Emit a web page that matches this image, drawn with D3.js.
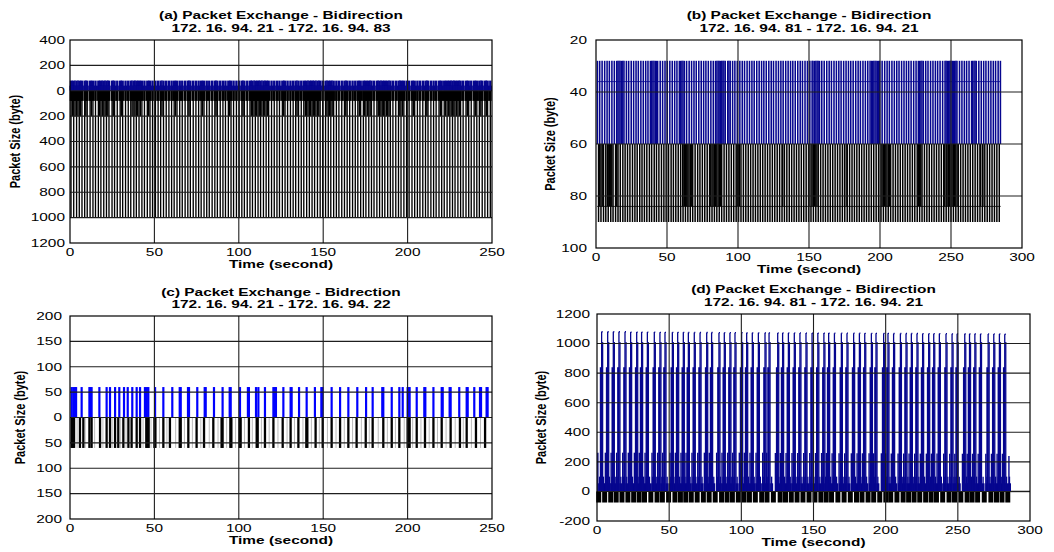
<!DOCTYPE html>
<html><head><meta charset="utf-8">
<script src="https://cdn.jsdelivr.net/npm/d3@7"></script>
<style>body{margin:0;background:#fff}svg{display:block}text{font-family:"Liberation Sans",Arial,sans-serif;fill:#000}</style>
</head><body><svg id="chart" width="1054" height="552"></svg>
<script>
// ---------------- data ----------------
const titlesA = ["(a) Packet Exchange - Bidirection", "172. 16. 94. 21 - 172. 16. 94. 83"];
const titlesB = ["(b) Packet Exchange - Bidirection", "172. 16. 94. 81 - 172. 16. 94. 21"];
const titlesC = ["(c) Packet Exchange - Bidrection", "172. 16. 94. 21 - 172. 16. 94. 22"];
const titlesD = ["(d) Packet Exchange - Bidirection", "172. 16. 94. 81 - 172. 16. 94. 21"];
const xLabel = "Time (second)";
const yLabel = "Packet Size (byte)";

const xTicks250 = [0, 50, 100, 150, 200, 250];
const xTicks300 = [0, 50, 100, 150, 200, 250, 300];
const aYTicks = [400, 200, 0, -200, -400, -600, -800, -1000, -1200];
const bYTicks = [20, 40, 60, 80, 100];
const cYTicks = [200, 150, 100, 50, 0, -50, -100, -150, -200];
const dYTicks = [1200, 1000, 800, 600, 400, 200, 0, -200];

// (a) packet sizes: black = one direction (negative), blue = other direction
const aTallV = -1000, aMidV = -200, aLowV = -80, aBlueHiV = 80, aBlueLoV = 40;
const aTallT = [0.6,2.2,3.9,5.5,7.1,8.7,10.2,11.9,13.6,15.1,16.8,18.3,20.0,21.6,23.1,24.9,26.4,28.0,29.7,31.2,32.9,34.5,36.0,37.8,39.3,40.9,42.6,44.1,45.8,47.4,48.9,50.6,52.2,53.7,55.4,57.0,58.6,60.2,61.7,63.4,65.0,66.5,68.2,69.8,71.3,73.0,74.6,76.2,77.7,79.4,81.0,82.5,84.2,85.8,87.3,89.0,90.6,92.1,93.8,95.4,96.9,98.6,100.2,101.8,103.3,105.0,106.6,108.1,109.8,111.4,112.9,114.6,116.2,117.7,119.4,121.0,122.6,124.1,125.8,127.4,128.9,130.6,132.2,133.7,135.4,137.0,138.5,140.2,141.8,143.4,144.9,146.6,148.2,149.7,151.4,153.0,154.5,156.2,157.8,159.3,161.0,162.6,164.2,165.7,167.4,169.0,170.5,172.2,173.8,175.3,177.0,178.6,180.1,181.8,183.4,185.0,186.5,188.2,189.8,191.3,193.0,194.6,196.1,197.8,199.4,200.9,202.6,204.2,205.8,207.3,209.0,210.6,212.1,213.8,215.4,216.9,218.6,220.2,221.7,223.4,225.0,226.6,228.1,229.8,231.4,232.9,234.6,236.2,237.7,239.4,241.0,242.5,244.2,245.8,247.4,249.0];
const aMidT = [1.4,3.0,4.7,6.3,9.4,12.7,17.5,19.1,20.8,22.4,25.6,30.4,36.8,38.5,40.1,41.7,46.6,54.5,62.5,70.5,78.5,86.5,94.6,102.5,107.4,109.0,110.6,112.1,113.7,115.4,117.0,126.6,134.5,139.4,141.0,142.6,144.1,145.7,147.4,152.2,153.8,155.3,163.4,171.4,174.5,176.2,177.8,182.6,184.2,185.8,187.4,189.0,195.4,197.0,203.4,211.4,219.4,222.5,224.2,225.8,227.4,229.0,230.6,235.4,240.2,243.4,246.6];

// (b)
const bBase = 60, bBlueV = 28, bBlueStepV = 36, bBlackV = 90, bBlackStepV = 84;
const bStepRange = [0.8, 285.0];
const bBlueT = [1.0,2.6,4.3,6.1,7.8,9.4,11.2,12.9,14.6,16.2,17.9,19.7,21.4,23.0,24.8,26.5,28.2,29.8,31.6,33.3,35.0,36.6,38.3,40.1,41.8,43.4,45.2,46.9,48.6,50.2,52.0,53.7,55.4,57.0,58.7,60.5,62.2,63.8,65.6,67.3,69.0,70.6,72.4,74.1,75.8,77.4,79.1,80.9,82.6,84.2,86.0,87.7,89.4,91.0,92.8,94.5,96.2,97.8,99.5,101.3,103.0,104.6,106.4,108.1,109.8,111.4,113.2,114.9,116.6,118.2,119.9,121.7,123.4,125.0,126.8,128.5,130.2,131.8,133.6,135.3,137.0,138.6,140.3,142.1,143.8,145.4,147.2,148.9,150.6,152.2,154.0,155.7,157.4,159.0,160.7,162.5,164.2,165.8,167.6,169.3,171.0,172.6,174.4,176.1,177.8,179.4,181.1,182.9,184.6,186.2,188.0,189.7,191.4,193.0,194.8,196.5,198.2,199.8,201.5,203.3,205.0,206.6,208.4,210.1,211.8,213.4,215.2,216.9,218.6,220.2,221.9,223.7,225.4,227.0,228.8,230.5,232.2,233.8,235.6,237.3,239.0,240.6,242.3,244.1,245.8,247.4,249.2,250.9,252.6,254.2,256.0,257.7,259.4,261.0,262.7,264.5,266.2,267.8,269.6,271.3,273.0,274.6,276.4,278.1,279.8,281.4,283.2,284.8];
const bBlueExtraT = [15.4,17.0,18.8,39.2,40.9,42.6,59.6,61.3,85.1,86.8,88.5,90.1,93.6,152.9,154.8,156.5,194.0,195.6,197.3,199.0,227.8,229.6,246.6,248.3,250.0,251.7,253.4,265.2,267.0];
const bBlackT = [1.8,3.5,5.3,6.9,8.6,10.4,12.0,13.8,15.5,17.1,18.9,20.5,22.2,23.9,25.7,27.4,29.0,30.8,32.4,34.1,35.8,37.6,39.2,41.0,42.6,44.3,46.1,47.8,49.4,51.1,52.9,54.5,56.2,57.9,59.6,61.3,63.0,64.7,66.4,68.1,69.8,71.6,73.2,74.9,76.6,78.3,80.0,81.7,83.4,85.1,86.8,88.5,90.2,91.9,93.6,95.3,97.0,98.7,100.4,102.1,103.8,105.5,107.2,108.9,110.6,112.3,114.0,115.7,117.4,119.1,120.8,122.5,124.2,125.9,127.6,129.3,131.0,132.7,134.4,136.1,137.8,139.5,141.2,142.9,144.6,146.3,148.0,149.7,151.4,153.1,154.8,156.5,158.2,159.9,161.6,163.3,165.0,166.7,168.4,170.1,171.8,173.5,175.2,176.9,178.6,180.3,182.0,183.7,185.4,187.1,188.8,190.5,192.2,193.9,195.6,197.3,199.0,200.7,202.4,204.1,205.8,207.5,209.2,210.9,212.6,214.3,216.0,217.7,219.4,221.1,222.8,224.5,226.2,227.9,229.6,231.3,233.0,234.7,236.4,238.1,239.8,241.5,243.2,244.9,246.6,248.3,250.0,251.7,253.4,255.1,256.8,258.5,260.2,261.9,263.6,265.3,267.0,268.7,270.4,272.1,273.8,275.5,277.2,278.9,280.6,282.3,284.0];
const bBlack84T = [2.6,4.4,8.0,9.5,11.1,14.6,61.0,62.2,63.9,65.5,67.1,80.8,82.5,84.3,86.0,87.6,99.5,101.0,131.5,150.0,152.2,153.9,155.6,175.0,176.7,201.5,203.2,204.9,206.6,227.0,228.7,245.6,247.3,249.1,250.8,252.6,254.3,270.8,272.5];

// (c)
const cBlueV = 60, cBlackV = -60;
const cBlueT = [1.0,2.0,3.0,3.6,6.9,11.5,12.1,12.8,17.4,21.7,23.7,26.7,29.2,32.0,34.2,36.9,39.5,41.5,44.4,45.5,46.4,50.4,55.3,60.6,65.0,65.6,69.9,70.5,75.4,79.8,80.4,85.3,90.4,94.6,95.2,100.7,105.4,106.0,110.2,111.6,115.5,120.5,121.4,122.0,126.4,130.7,131.3,135.7,140.2,145.1,148.9,149.5,155.0,160.0,164.9,170.2,175.4,179.3,185.0,185.6,190.6,195.1,197.1,200.0,200.6,201.2,205.4,209.9,210.5,215.3,220.2,220.8,224.9,225.5,230.6,235.0,235.6,239.5,242.9,243.5,246.8,247.4];
const cBlackT = [1.0,1.6,2.4,5.9,7.9,11.5,12.8,17.8,21.7,23.7,26.7,28.6,31.6,34.6,36.5,39.5,41.5,45.2,45.8,46.6,50.0,50.6,55.3,59.2,65.0,65.6,70.1,75.0,79.4,84.9,89.8,90.4,95.0,95.6,100.5,101.1,106.0,110.6,111.2,115.5,120.5,126.0,130.7,135.3,140.0,140.6,145.5,149.7,155.0,160.0,164.9,169.8,175.2,179.3,185.6,190.6,195.1,200.0,200.6,201.2,205.4,210.3,215.3,220.2,225.5,231.0,235.0,240.5,245.9];
const cGreyT = [4.2,9.0,14.6,19.5,25.0,30.0,33.2,43.3,48.0,53.0,57.4,62.6,67.8,72.5,77.5,82.5,87.7,92.8,98.1,103.4,108.0,113.4,118.0,123.2,128.6,133.0,138.0,143.0,147.7,152.5,157.6,162.5,167.4,172.6,177.3,182.6,188.0,192.8,198.0,203.0,207.9,212.8,217.7,222.8,228.2,233.0,237.8,243.2];

// (d)
const dPeakT = [3.2,7.4,11.3,15.2,19.4,23.3,27.5,30.9,34.9,39.7,43.6,47.1,52.2,55.9,59.8,63.3,67.4,71.4,76.0,79.4,84.5,88.2,92.1,95.6,100.2,103.7,107.6,111.8,116.4,119.2,125.2,128.6,132.6,136.7,140.6,144.8,149.0,153.0,157.2,160.5,164.5,169.3,173.2,177.8,181.8,185.5,190.1,193.3,198.6,201.6,205.5,210.2,214.1,217.8,221.7,225.6,229.8,233.3,237.2,241.8,246.0,249.5,254.8,258.1,261.8,265.7,271.0,274.9,278.8,282.5];
const dPeakV = [1080,1080,1080,1080,1080,1078,1078,1078,1078,1078,1076,1076,1076,1076,1076,1075,1075,1075,1075,1075,1074,1074,1074,1074,1074,1073,1073,1073,1073,1073,1072,1072,1072,1072,1072,1071,1071,1071,1071,1071,1070,1070,1070,1070,1070,1069,1069,1069,1069,1069,1068,1068,1068,1068,1068,1067,1067,1067,1067,1067,1066,1066,1066,1066,1066,1065,1065,1065,1065,1063];
const d1010T = [3.9,8.1,12.0,15.9,20.1,24.0,28.2,31.6,35.6,40.4,44.3,47.8,52.9,56.6,60.5,64.0,68.1,72.1,76.7,80.1,85.2,88.9,92.8,96.3,100.9,104.4,108.3,112.5,117.1,119.9,125.9,129.3,133.3,137.4,141.3,145.5,149.7,153.7,157.9,161.2,165.2,170.0,173.9,178.5,182.5,186.2,190.8,194.0,199.3,202.3,206.2,210.9,214.8,218.5,222.4,226.3,230.5,234.0,237.9,242.5,246.7,250.2,255.5,258.8,262.5,266.4,271.7,275.6,279.5,283.2];
const d1010V = 1010;
const d840T = [2.7,6.9,10.8,14.7,18.9,22.8,27.0,30.4,34.4,39.2,43.1,46.6,51.7,55.4,59.3,62.8,66.9,70.9,75.5,78.9,84.0,87.7,91.6,95.1,99.7,103.2,107.1,111.3,115.9,118.7,124.7,128.1,132.1,136.2,140.1,144.3,148.5,152.5,156.7,160.0,164.0,168.8,172.7,177.3,181.3,185.0,189.6,192.8,198.1,201.1,205.0,209.7,213.6,217.3,221.2,225.1,229.3,232.8,236.7,241.3,245.5,249.0,254.3,257.6,261.3,265.2,270.5,274.4,278.3,282.0];
const d840V = 840;
const d260T = [0.6,5.8,9.8,13.6,17.8,21.7,25.9,29.3,33.3,38.1,42.0,45.5,50.6,54.3,58.2,61.7,65.8,69.8,74.4,77.8,82.9,86.6,90.5,94.0,98.6,102.1,106.0,110.2,114.8,117.6,123.6,127.0,131.0,135.1,139.0,143.2,147.4,151.4,155.6,158.9,162.9,167.7,171.6,176.2,180.2,183.9,188.5,191.7,197.0,200.0,203.9,208.6,212.5,216.2,220.1,224.0,228.2,231.7,235.6,240.2,244.4,247.9,253.2,256.5,260.2,264.1,269.4,273.3,277.2,280.9,285.4];
const d260V = [262,262,262,262,262,262,262,262,262,262,262,262,262,262,262,262,262,262,262,262,262,262,262,262,262,262,262,262,262,262,260,260,260,260,260,260,260,260,260,260,258,258,258,258,258,258,258,258,258,258,256,256,256,256,256,256,256,256,256,256,255,255,255,255,255,255,255,255,255,255,240];
const d100T = [1.8,4.5,6.2,8.6,10.4,12.6,14.4,16.5,18.4,20.6,22.5,24.6,26.4,28.5,30.2,32.3,34.1,36.4,38.6,41.0,42.8,44.9,46.3,48.6,51.1,53.3,55.0,57.2,59.0,60.9,62.5,64.5,66.6,68.5,70.5,72.8,75.1,77.0,78.6,80.9,83.6,85.5,87.4,89.4,91.3,93.0,94.8,97.1,99.4,101.0,102.9,105.0,106.8,108.9,111.0,113.2,115.6,117.5,118.4,121.0,124.4,126.0,127.8,130.0,131.8,133.9,135.9,137.9,139.8,142.0,144.0,146.1,148.2,150.3,152.2,154.4,156.4,158.4,159.7,161.8,163.7,166.0,168.5,170.5,172.4,174.6,177.0,179.1,181.0,182.9,184.7,186.8,189.3,191.5,192.5,194.6,197.8,199.9,200.8,203.0,204.7,206.9,209.4,211.5,213.3,215.4,217.0,219.1,220.9,223.0,224.8,227.0,229.0,231.1,232.5,234.6,236.4,238.6,241.0,243.1,245.2,247.3,248.7,251.0,254.0,256.0,257.3,259.5,261.0,263.0,264.9,267.5,270.2,272.3,274.1,276.2,278.0,280.1,282.0,283.8,285.8];
const d100V = 100, dBlueLowV = 55;
const dBlackT = [1.2,5.3,9.5,13.3,17.3,21.4,25.4,29.2,32.9,37.3,41.6,45.3,49.6,54.0,57.8,61.5,65.3,69.4,73.7,77.7,81.9,86.3,90.1,93.8,97.9,101.9,105.6,109.7,114.1,117.8,122.2,126.9,130.6,134.6,138.6,142.7,146.9,151.0,155.1,158.8,162.5,166.9,171.2,175.5,179.8,183.6,187.8,191.7,195.9,200.1,203.5,207.8,212.1,215.9,219.7,223.6,227.7,231.5,235.2,239.5,243.9,247.7,252.1,256.4,259.9,263.7,268.3,272.9,276.8,280.6,284.6];
const dBlackV = -75;
const dTailZero = [286.0, 300.0];

// ---------------- drawing ----------------
const svg = d3.select("#chart");
const NAVY = "#06068f", BLUE = "#0000ff", GRID = "#1e1e1e";
const SX = 1.4; // horizontal stretch of the original figure's text

function label(g, x, y, s, anchor, weight, dy) {
  g.append("text")
    .attr("transform", `translate(${x},${y}) scale(${SX},1)`)
    .attr("text-anchor", anchor).attr("font-size", 11)
    .attr("font-weight", weight).attr("dy", dy || 0).text(s);
}

function panel(cfg) {
  const g = svg.append("g");
  const x = d3.scaleLinear().domain(cfg.xDomain).range([cfg.left, cfg.right]);
  const y = d3.scaleLinear().domain(cfg.yDomain).range([cfg.bottom, cfg.top]);
  const data = g.append("g");
  const p = {g, data, x, y, cfg};
  p.finish = () => {
    const grid = g.append("g").attr("stroke", GRID).attr("stroke-width", 1.1);
    cfg.xTicks.slice(1, -1).forEach(v => grid.append("line")
      .attr("x1", x(v)).attr("x2", x(v)).attr("y1", cfg.top).attr("y2", cfg.bottom));
    cfg.yTicks.slice(1, -1).forEach(v => grid.append("line")
      .attr("x1", cfg.left).attr("x2", cfg.right).attr("y1", y(v)).attr("y2", y(v)));
    g.append("rect").attr("x", cfg.left).attr("y", cfg.top)
      .attr("width", cfg.right - cfg.left).attr("height", cfg.bottom - cfg.top)
      .attr("fill", "none").attr("stroke", "#000").attr("stroke-width", 1.2);
    cfg.xTicks.forEach(v => label(g, x(v), cfg.bottom + 13, v, "middle", "normal"));
    cfg.yTicks.forEach(v => label(g, cfg.left - cfg.yPad, y(v), cfg.fmt(v), "end", "normal", "0.35em"));
    label(g, (cfg.left + cfg.right) / 2, cfg.bottom + 25, xLabel, "middle", "bold");
    label(g, (cfg.left + cfg.right) / 2, cfg.t1, cfg.titles[0], "middle", "bold");
    label(g, (cfg.left + cfg.right) / 2, cfg.t2, cfg.titles[1], "middle", "bold");
    g.append("text")
      .attr("transform", `translate(${cfg.ylx},${(cfg.top + cfg.bottom) / 2}) scale(${SX},1) rotate(-90)`)
      .attr("text-anchor", "middle").attr("dy", "0.35em").attr("font-size", 11)
      .attr("font-weight", "bold").text(yLabel);
  };
  return p;
}

function spikes(p, times, base, val, color, w) {
  const vf = typeof val === "function" ? val : () => val;
  p.data.append("g").selectAll("line").data(times).join("line")
    .attr("x1", d => p.x(d)).attr("x2", d => p.x(d))
    .attr("y1", p.y(base)).attr("y2", (d, i) => p.y(vf(d, i)))
    .attr("stroke", color).attr("stroke-width", w);
}
function hline(p, range, v, color, w) {
  p.data.append("line").attr("x1", p.x(range[0])).attr("x2", p.x(range[1]))
    .attr("y1", p.y(v)).attr("y2", p.y(v)).attr("stroke", color).attr("stroke-width", w);
}

// ---- (a)
const pa = panel({left: 70, right: 492, top: 40, bottom: 243, xDomain: [0, 250], yDomain: [-1200, 400],
  xTicks: xTicks250, yTicks: aYTicks, fmt: v => Math.abs(v), yPad: 5, titles: titlesA, t1: 19, t2: 32, ylx: 15});
const aAllBlack = aTallT.concat(aMidT);
spikes(pa, aTallT, 0, aTallV, "#000", 1.35);
spikes(pa, aMidT, 0, aMidV, "#000", 1.5);
spikes(pa, aAllBlack, 0, aLowV, "#000", 2.6);
spikes(pa, aTallT, 0, aBlueHiV, NAVY, 2.4);
spikes(pa, aMidT, 0, aBlueHiV, NAVY, 1.4);
spikes(pa, aAllBlack, 0, aBlueLoV, NAVY, 3);
pa.finish();

// ---- (b)
const pb = panel({left: 596, right: 1022, top: 40, bottom: 248, xDomain: [0, 300], yDomain: [100, 20],
  xTicks: xTicks300, yTicks: bYTicks, fmt: v => v, yPad: 9, titles: titlesB, t1: 19, t2: 32, ylx: 550});
spikes(pb, bBlackT, bBase, bBlackV, "#000", 1.5);
spikes(pb, bBlack84T, bBase, bBlackStepV, "#000", 1.4);
spikes(pb, bBlueT, bBase, bBlueV, NAVY, 1.55);
spikes(pb, bBlueExtraT, bBase, bBlueV, NAVY, 1.3);
hline(pb, bStepRange, bBlueStepV, NAVY, 0.8);
hline(pb, bStepRange, bBlackStepV, "#000", 0.8);
pb.finish();

// ---- (c)
const pc = panel({left: 70, right: 492, top: 316, bottom: 519, xDomain: [0, 250], yDomain: [-200, 200],
  xTicks: xTicks250, yTicks: cYTicks, fmt: v => Math.abs(v), yPad: 8, titles: titlesC, t1: 296, t2: 308, ylx: 20});
spikes(pc, cGreyT, 0, cBlackV, "#bbb", 1);
spikes(pc, cBlueT, 0, cBlueV, BLUE, 2.2);
spikes(pc, cBlackT, 0, cBlackV, "#000", 2.3);
pc.finish();

// ---- (d)
const pd = panel({left: 597, right: 1030, top: 314, bottom: 521, xDomain: [0, 300], yDomain: [-200, 1200],
  xTicks: xTicks300, yTicks: dYTicks, fmt: v => v, yPad: 7, titles: titlesD, t1: 293, t2: 306, ylx: 541});
hline(pd, dTailZero, 0, "#999", 2);
spikes(pd, dBlackT, 0, dBlackV, "#000", 5);
spikes(pd, d100T, 0, dBlueLowV, NAVY, 3);
spikes(pd, d100T, 0, d100V, NAVY, 1.3);
spikes(pd, d260T, 0, (d, i) => d260V[i], NAVY, 1.4);
spikes(pd, d840T, 0, d840V, NAVY, 2.2);
spikes(pd, dPeakT, 0, (d, i) => dPeakV[i], NAVY, 1.3);
spikes(pd, d1010T, 0, d1010V, NAVY, 1.3);
// small flat tops of the peaks
pd.data.append("g").selectAll("line").data(dPeakT).join("line")
  .attr("x1", d => pd.x(d)).attr("x2", (d, i) => pd.x(d1010T[i]))
  .attr("y1", (d, i) => pd.y(dPeakV[i])).attr("y2", (d, i) => pd.y(dPeakV[i]))
  .attr("stroke", NAVY).attr("stroke-width", 1.3);
pd.finish();
</script></body></html>
